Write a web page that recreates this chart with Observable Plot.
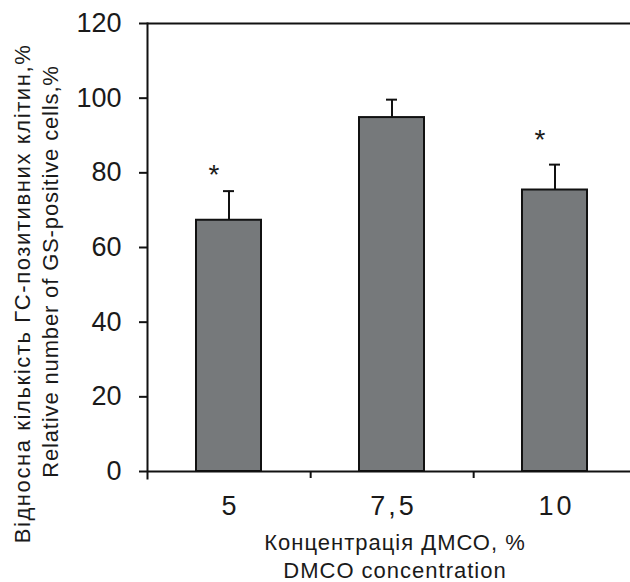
<!DOCTYPE html>
<html>
<head>
<meta charset="utf-8">
<script src="https://cdn.jsdelivr.net/npm/d3@7"></script>
<script src="https://cdn.jsdelivr.net/npm/@observablehq/plot@0.6"></script>
<style>
  html, body { margin: 0; padding: 0; background: #fff; overflow: hidden; width: 630px; height: 582px; }
  #chart svg { overflow: hidden; }
</style>
</head>
<body>
<div id="chart"></div>
<script>
const categories = ["5", "7,5", "10"];
const means = [67.3, 94.8, 75.4];
const errHigh = [75.1, 99.6, 82.2];
const starCats = ["5", "10"];
const starY = [79.5, 88.8];
const yTicks = [0, 20, 40, 60, 80, 100, 120];
const xTitle = "Концентрація ДМСО, %\nDMCO concentration";
const yTitle1 = "Відносна кількість ГС-позитивних клітин,%";
const yTitle2 = "Relative number of GS-positive cells,%";

const data = categories.map((c, i) => ({c, mean: means[i], hi: errHigh[i]}));
const stars = starCats.map((c, i) => ({c, y: starY[i]}));
const boundaries = categories.slice(0, -1);

const ink = "#1a1a1a";
const font = "'Liberation Sans', Arial, sans-serif";

const chart = Plot.plot({
  width: 630,
  height: 582,
  marginTop: 23,
  marginBottom: 111,
  marginLeft: 147,
  marginRight: -7,
  style: {fontFamily: font, color: ink, background: "#fff"},
  x: {type: "band", domain: categories, paddingInner: 0.6, paddingOuter: 0.3, axis: null},
  y: {domain: [0, 120], axis: null},
  marks: [
    Plot.barY(data, {x: "c", y: "mean", fill: "#76797b", stroke: "#111", strokeWidth: 2}),
    Plot.ruleX(data, {x: "c", y1: "mean", y2: "hi", stroke: "#111", strokeWidth: 2}),
    Plot.tickY(data, {x: "c", y: "hi", inset: 27, stroke: "#111", strokeWidth: 2}),
    Plot.text(stars, {x: "c", y: "y", text: () => "*", dx: -15, fontSize: 28, fill: ink}),
    Plot.ruleY([0, 120], {stroke: "#111", strokeWidth: 2}),
    Plot.frame({anchor: "left", insetBottom: -7, stroke: "#111", strokeWidth: 2}),
    Plot.ruleX(boundaries, {x: d => d, y1: () => 0, y2: () => 0, dx: 490 / 6, insetBottom: -7, stroke: "#111", strokeWidth: 2}),
    Plot.axisY({ticks: yTicks, tickSize: 8, tickPadding: 18, fontSize: 27, strokeWidth: 2, stroke: "#111", fill: ink, label: null}),
    Plot.axisX({tickSize: 0, tickPadding: 24, fontSize: 27, dx: 1.5, fill: ink, label: null}),
    Plot.text([xTitle], {frameAnchor: "bottom", text: d => d, textAnchor: "middle", lineAnchor: "top", dy: 59, dx: 2.5, fontSize: 22, lineHeight: 1.27, fill: ink}),
    Plot.text([yTitle1], {frameAnchor: "left", text: d => d, textAnchor: "middle", rotate: -90, dx: -125, dy: 46, fontSize: 22, fill: ink}),
    Plot.text([yTitle2], {frameAnchor: "left", text: d => d, textAnchor: "middle", rotate: -90, dx: -97, dy: 24, fontSize: 22, fill: ink})
  ]
});

// widen letter spacing to match the reference's wider typeface
const spacing = new Map([
  [yTitle1, "1.6px"],
  [yTitle2, "0.85px"],
  [xTitle.replace("\n", ""), "1px"],
  ["7,5", "3px"], ["5", "3px"], ["10", "3px"]
]);
d3.select(chart).selectAll("text").each(function() {
  const t = this.textContent;
  if (spacing.has(t)) this.style.letterSpacing = spacing.get(t);
});
document.getElementById("chart").append(chart);
</script>
</body>
</html>
